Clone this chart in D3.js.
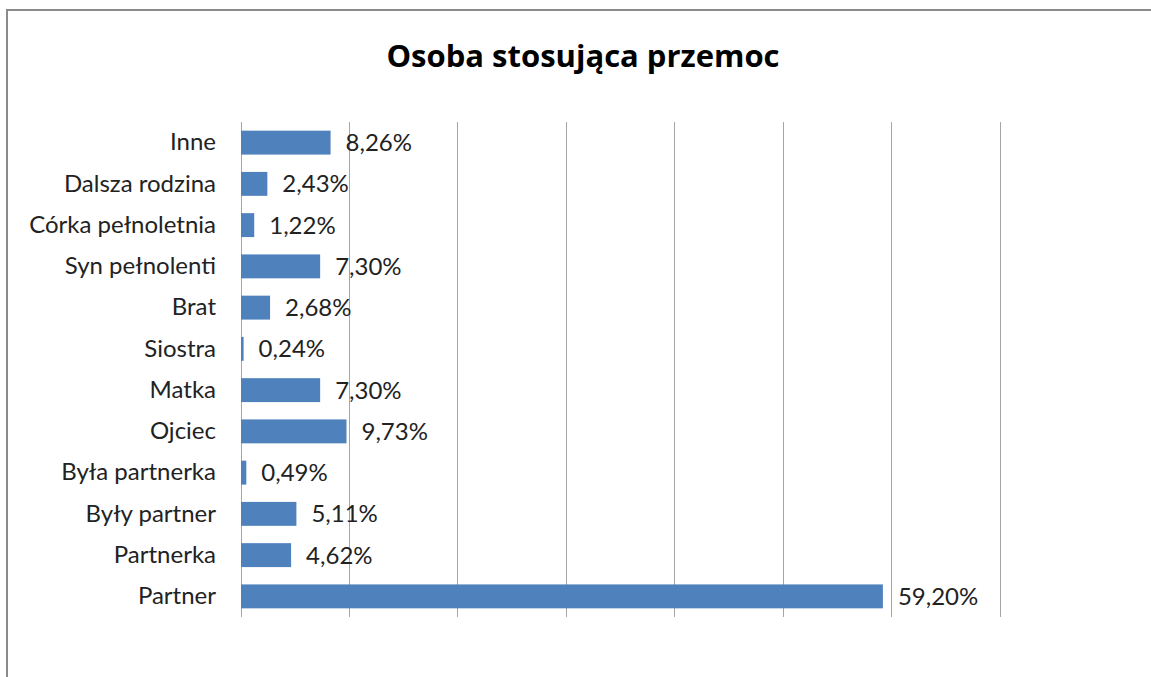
<!DOCTYPE html>
<html>
<head>
<meta charset="utf-8">
<script src="https://cdn.jsdelivr.net/npm/d3@7"></script>
<style>
    body { margin: 0; background: #fff; }
    svg text { font-family: "Lato", "Open Sans", sans-serif; }
</style>
</head>
<body>
<div id="chart"></div>
<script>
// categories from bottom to top, as in the chart
const categories = ["Partner", "Partnerka", "Były partner", "Była partnerka", "Ojciec", "Matka",
    "Siostra", "Brat", "Syn pełnolenti", "Córka pełnoletnia", "Dalsza rodzina", "Inne"];
const values = [59.20, 4.62, 5.11, 0.49, 9.73, 7.30, 0.24, 2.68, 7.30, 1.22, 2.43, 8.26];
const gridTicks = [0, 10, 20, 30, 40, 50, 60, 70];

const W = 1151, H = 677;
const margin = { top: 122, right: 151, bottom: 60, left: 241 };

const svg = d3.select("#chart").append("svg")
    .attr("width", W)
    .attr("height", H);

// outer frame
svg.append("rect")
    .attr("x", 7).attr("y", 10)
    .attr("width", W + 20).attr("height", H + 20)
    .attr("fill", "none")
    .attr("stroke", "#8a8a8a")
    .attr("stroke-width", 2);

svg.append("text")
    .attr("x", 583).attr("y", 67)
    .attr("text-anchor", "middle")
    .style("font-family", "'Open Sans', sans-serif")
    .style("font-weight", "bold")
    .style("font-size", "31px")
    .attr("fill", "#000")
    .text("Osoba stosująca przemoc");

const x = d3.scaleLinear().domain([0, 70]).range([margin.left, 1000]);
const y = d3.scaleBand()
    .domain(categories.slice().reverse())
    .range([122, 617])
    .paddingInner(0.42)
    .paddingOuter(0.21);

// gridlines
svg.append("g")
    .selectAll("line")
    .data(gridTicks)
    .enter().append("line")
    .attr("x1", d => x(d)).attr("x2", d => x(d))
    .attr("y1", 122).attr("y2", 617)
    .attr("stroke", "#a6a6a6")
    .attr("stroke-width", 1)
    .attr("shape-rendering", "crispEdges");

const yAxis = svg.append("g")
    .attr("transform", "translate(" + margin.left + ",0)")
    .call(d3.axisLeft(y).tickSize(0).tickPadding(25));
yAxis.select(".domain").remove();
yAxis.selectAll("text")
    .style("font-size", "24px")
    .attr("fill", "#222");

svg.selectAll(".bar")
    .data(values)
    .enter().append("rect")
    .attr("class", "bar")
    .attr("x", x(0))
    .attr("y", (d, i) => y(categories[i]))
    .attr("width", d => x(d) - x(0))
    .attr("height", y.bandwidth())
    .attr("fill", "#4f81bd");

const fmt = d3.formatLocale({ decimal: ",", thousands: " ", grouping: [3], currency: ["", ""] }).format(".2f");

svg.selectAll(".val")
    .data(values)
    .enter().append("text")
    .attr("class", "val")
    .attr("x", d => x(d) + 15)
    .attr("y", (d, i) => y(categories[i]) + y.bandwidth() / 2)
    .attr("dy", "0.35em")
    .style("font-size", "24px")
    .attr("fill", "#222")
    .text(d => fmt(d) + "%");
</script>
</body>
</html>
